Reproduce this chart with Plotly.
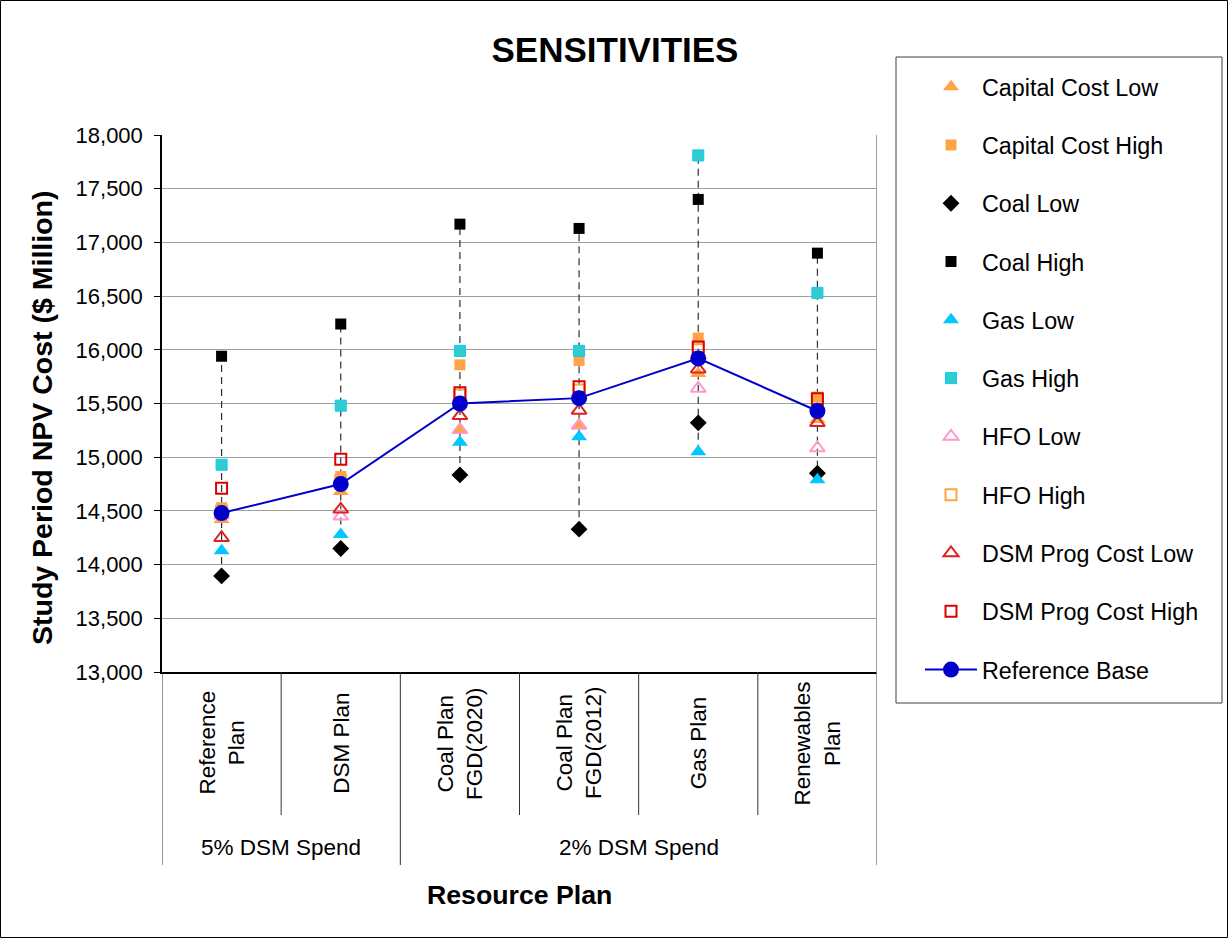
import plotly.graph_objects as go

categories = ["Reference<br>Plan", "DSM Plan", "Coal Plan<br>FGD(2020)",
              "Coal Plan<br>FGD(2012)", "Gas Plan", "Renewables<br>Plan"]
groups = ["5% DSM Spend", "2% DSM Spend"]
group_spans = [(0, 1), (2, 5)]
y_ticks = [13000, 13500, 14000, 14500, 15000, 15500, 16000, 16500, 17000, 17500, 18000]

cap_low = [14420, 14680, 15260, 15300, 15780, 15350]
cap_high = [14530, 14820, 15860, 15900, 16110, 15560]
coal_low = [13895, 14150, 14835, 14330, 15320, 14850]
coal_high = [15940, 16240, 17170, 17130, 17400, 16900]
gas_low = [14130, 14280, 15140, 15190, 15050, 14790]
gas_high = [14930, 15480, 15990, 15990, 17810, 16530]
hfo_low = [14460, 14450, 15255, 15295, 15640, 15085]
hfo_high = [14500, 14780, 15580, 15625, 16000, 15520]
dsm_low = [14250, 14515, 15385, 15435, 15820, 15320]
dsm_high = [14710, 14980, 15600, 15655, 16025, 15545]
ref_base = [14480, 14750, 15500, 15550, 15920, 15430]

FONT = "Arial, Liberation Sans, sans-serif"
xs = list(range(len(categories)))

# plot area geometry (px) used for paper-coordinate conversions
W, H = 1228, 938
L, R, T, B = 162, 877, 135, 672
PW, PH = R - L, B - T
def px(xp):
    return (xp - L) / PW
def py(yp):
    return (B - yp) / PH

fig = go.Figure()

# high-low dashed lines
all_series = [cap_low, cap_high, coal_low, coal_high, gas_low, gas_high,
              hfo_low, hfo_high, dsm_low, dsm_high, ref_base]
hx, hy = [], []
for i in xs:
    vals = [s[i] for s in all_series]
    hx += [i, i, None]
    hy += [min(vals), max(vals), None]
fig.add_trace(go.Scatter(x=hx, y=hy, mode="lines", showlegend=False, hoverinfo="skip",
                         line=dict(color="#303030", width=1.2, dash="7px,5px")))

series = [
    ("Capital Cost Low", cap_low, dict(symbol="triangle-up", size=14, color="#FFA347", line=dict(width=0))),
    ("Capital Cost High", cap_high, dict(symbol="square", size=11, color="#FFA347", line=dict(width=0))),
    ("Coal Low", coal_low, dict(symbol="diamond", size=13, color="#000000", line=dict(width=0))),
    ("Coal High", coal_high, dict(symbol="square", size=11, color="#000000", line=dict(width=0))),
    ("Gas Low", gas_low, dict(symbol="triangle-up", size=14, color="#00C8FF", line=dict(width=0))),
    ("Gas High", gas_high, dict(symbol="square", size=11, color="#33CCCC", line=dict(width=1, color="#00CCFF"))),
    ("HFO Low", hfo_low, dict(symbol="triangle-up-open", size=13, color="#FF99CC", line=dict(width=2, color="#FF99CC"))),
    ("HFO High", hfo_high, dict(symbol="square-open", size=11, color="#FFA347", line=dict(width=2, color="#FFA347"))),
    ("DSM Prog Cost Low", dsm_low, dict(symbol="triangle-up-open", size=13, color="#DD2222", line=dict(width=2, color="#DD2222"))),
    ("DSM Prog Cost High", dsm_high, dict(symbol="square-open", size=11, color="#DD0000", line=dict(width=2, color="#DD0000"))),
]
for k, (name, vals, mk) in enumerate(series):
    fig.add_trace(go.Scatter(x=xs, y=vals, mode="markers", name=name, marker=mk,
                             legendgroup=f"g{k}"))

fig.add_trace(go.Scatter(x=xs, y=ref_base, mode="lines+markers", name="Reference Base",
                         legendgroup="gbase",
                         line=dict(color="#0000CC", width=2),
                         marker=dict(symbol="circle", size=16, color="#0000CC")))

shapes = []
# category separators
for b in [0.5, 2.5, 3.5, 4.5]:
    shapes.append(dict(type="line", xref="x", yref="paper", x0=b, x1=b, y0=0, y1=py(815),
                       line=dict(color="#333333", width=1)))
for b in [-0.5, 1.5]:
    shapes.append(dict(type="line", xref="x", yref="paper", x0=b, x1=b, y0=0, y1=py(865),
                       line=dict(color="#333333", width=1)))
shapes.append(dict(type="line", xref="x", yref="paper", x0=5.5, x1=5.5, y0=py(865), y1=1,
                   line=dict(color="#808080", width=1.5)))
# legend box
shapes.append(dict(type="rect", xref="paper", yref="paper", x0=px(896), x1=px(1222),
                   y0=py(703), y1=py(57), line=dict(color="#404040", width=1)))
# outer border
shapes.append(dict(type="rect", xref="paper", yref="paper", x0=px(0.5), x1=px(W - 0.5),
                   y0=py(H - 0.5), y1=py(0.5), line=dict(color="#000000", width=1)))

annotations = []
for i, c in enumerate(categories):
    annotations.append(dict(x=i, y=py(743), xref="x", yref="paper",
                            text=c.replace("<br>", "<br><span style='font-size:4px'> </span><br>") if False else c,
                            textangle=-90,
                            showarrow=False, font=dict(family=FONT, size=22.5, color="#000000"),
                            align="center", xanchor="center", yanchor="middle"))
for g, (a, b) in zip(groups, group_spans):
    annotations.append(dict(x=(a + b) / 2, y=py(847), xref="x", yref="paper", text=g,
                            showarrow=False, font=dict(family=FONT, size=22.5, color="#000000"),
                            xanchor="center", yanchor="middle"))
annotations.append(dict(x=px(519), y=py(895), xref="paper", yref="paper", text="<b>Resource Plan</b>",
                        showarrow=False, font=dict(family=FONT, size=26.7, color="#000000"),
                        xanchor="center", yanchor="middle"))
annotations.append(dict(x=px(42), y=py(418), xref="paper", yref="paper",
                        text="<b>Study Period NPV Cost ($ Million)</b>", textangle=-90,
                        showarrow=False, font=dict(family=FONT, size=28.5, color="#000000"),
                        xanchor="center", yanchor="middle"))

fig.update_layout(
    width=W, height=H,
    margin=dict(l=L, r=W - R, t=T, b=H - B, autoexpand=False),
    paper_bgcolor="white", plot_bgcolor="white",
    font=dict(family=FONT, size=22, color="#000000"),
    title=dict(text="<b>SENSITIVITIES</b>", x=0.5008, xref="container", xanchor="center",
               y=1 - 50 / H, yref="container", yanchor="middle",
               font=dict(family=FONT, size=35, color="#000000")),
    xaxis=dict(range=[-0.5, 5.5], showticklabels=False, showgrid=False, zeroline=False,
               showline=True, linecolor="#000000", linewidth=1.5, ticks="", fixedrange=True),
    yaxis=dict(range=[13000, 18000], tickvals=y_ticks, tickformat=",", showgrid=True,
               gridcolor="#A0A0A0", gridwidth=1, zeroline=False, showline=True,
               linecolor="#000000", linewidth=1.5, ticks="outside", ticklen=6,
               ticklabelstandoff=7,
               tickcolor="#000000", tickfont=dict(family=FONT, size=22), fixedrange=True),
    showlegend=True,
    legend=dict(x=px(896), y=py(65), xanchor="left", yanchor="top", borderwidth=0,
                bgcolor="rgba(0,0,0,0)", font=dict(family=FONT, size=23.3, color="#000000"),
                traceorder="grouped", tracegroupgap=25, itemwidth=52, indentation=24,
                itemsizing="trace", maxheight=900),
    shapes=shapes,
    annotations=annotations,
)

fig.write_html("out.html", config={"displayModeBar": False},
               post_script="document.body.style.margin='0';document.body.style.overflow='hidden';")
